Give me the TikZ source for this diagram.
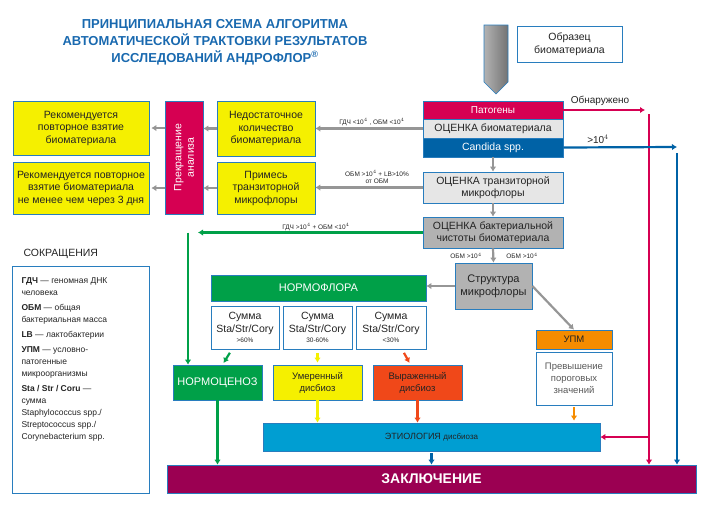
\documentclass[tikz,border=0pt]{standalone}
\usepackage{fontspec}
\setmainfont{Liberation Sans}
\usepackage{tikz}
\usetikzlibrary{positioning}
\usetikzlibrary{arrows.meta}
\definecolor{crim}{RGB}{214, 0, 82}
\definecolor{candblue}{RGB}{0, 98, 166}
\definecolor{edge}{RGB}{40, 125, 190}
\definecolor{ttl}{RGB}{25, 105, 175}
\definecolor{lgray}{RGB}{230, 230, 230}
\definecolor{mgray}{RGB}{178, 178, 178}
\definecolor{yel}{RGB}{245, 240, 0}
\definecolor{grn}{RGB}{0, 160, 72}
\definecolor{orng}{RGB}{245, 140, 0}
\definecolor{redor}{RGB}{240, 72, 25}
\definecolor{cyanb}{RGB}{0, 158, 210}
\definecolor{maroon}{RGB}{155, 0, 82}
\definecolor{agray}{RGB}{150, 150, 150}
\definecolor{txt}{RGB}{35, 35, 35}

\begin{document}
\begin{tikzpicture}[x=1pt, y=-1pt]
    \tikzstyle{box}=[draw=edge, line width=0.7pt, align=center, inner sep=1pt,
    text=txt, font=\fontsize{10.5}{12.5}\selectfont]
    \tikzstyle{arr}=[line width=2.2pt, arrows={-Latex[length=5pt,width=6.5pt]}]
    \tikzstyle{small}=[font=\fontsize{6.5}{7.5}\selectfont, text=txt, align=center]

    \useasboundingbox (0, 0) rectangle (702, 504);

    % Title
    \node [font=\bfseries\fontsize{13}{17}\selectfont, text=ttl, align=center] (title) at (215, 42)
    {ПРИНЦИПИАЛЬНАЯ СХЕМА АЛГОРИТМА\\АВТОМАТИЧЕСКОЙ ТРАКТОВКИ РЕЗУЛЬТАТОВ\\ИССЛЕДОВАНИЙ АНДРОФЛОР\textsuperscript{®}};

    % Sample input
    \shade [draw=edge, line width=0.6pt, left color=black!30, middle color=black!6, right color=black!55]
    (484, 25) -- (508, 25) -- (508, 82) -- (496, 94) -- (484, 82) -- cycle;
    \node [box, minimum width=105, minimum height=36] (sample) at (569.5, 44) {Образец\\биоматериала};

    % Top assessment block
    \node [box, fill=crim, text=white, minimum width=140, minimum height=18,
    font=\fontsize{10}{11}\selectfont] (patog) at (493, 110) {Патогены};
    \node [box, fill=lgray, minimum width=140, minimum height=19] (ocbio) at (493, 128.5) {ОЦЕНКА биоматериала};
    \node [box, fill=candblue, text=white, minimum width=140, minimum height=19] (candida) at (493, 147.5) {Candida spp.};

    % Insufficient material row
    \node [box, fill=yel, minimum width=98, minimum height=55] (nedost) at (266, 128.5) {Недостаточное\\количество\\биоматериала};
    \node [box, fill=crim, text=white, rotate=90, minimum width=113, minimum height=38] (prekr) at (184, 157.5) {Прекращение\\анализа};
    \node [box, fill=yel, minimum width=136, minimum height=54] (rec1) at (81, 128) {Рекомендуется\\повторное взятие\\биоматериала};

    % Transient microflora row
    \node [box, fill=yel, minimum width=98, minimum height=52] (primes) at (266, 188) {Примесь\\транзиторной\\микрофлоры};
    \node [box, fill=yel, minimum width=136, minimum height=52] (rec2) at (81, 188) {Рекомендуется повторное\\взятие биоматериала\\не менее чем через 3 дня};
    \node [box, fill=lgray, minimum width=140, minimum height=31] (octranz) at (493, 187.5) {ОЦЕНКА транзиторной\\микрофлоры};

    % Bacterial purity and structure
    \node [box, fill=mgray, minimum width=140, minimum height=31] (ocbakt) at (493, 232.5) {ОЦЕНКА бактериальной\\чистоты биоматериала};
    \node [box, fill=mgray, minimum width=77, minimum height=46,
    font=\fontsize{11}{13}\selectfont] (struct) at (493.5, 286) {Структура\\микрофлоры};

    % Normoflora
    \node [box, fill=grn, text=white, minimum width=215, minimum height=26,
    font=\fontsize{11}{13}\selectfont] (normofl) at (318.5, 288) {НОРМОФЛОРА};
    \node [box, minimum width=68, minimum height=43] (sum1) at (245, 327.5) {Сумма\\Sta/Str/Cory\\[-2pt]{\fontsize{6.5}{7}\selectfont >60\%}};
    \node [box, minimum width=69, minimum height=43] (sum2) at (317.5, 327.5) {Сумма\\Sta/Str/Cory\\[-2pt]{\fontsize{6.5}{7}\selectfont 30-60\%}};
    \node [box, minimum width=70, minimum height=43] (sum3) at (391, 327.5) {Сумма\\Sta/Str/Cory\\[-2pt]{\fontsize{6.5}{7}\selectfont <30\%}};
    \node [box, fill=grn, text=white, minimum width=89, minimum height=35,
    font=\fontsize{11}{13}\selectfont] (normoc) at (217.5, 382.5) {НОРМОЦЕНОЗ};
    \node [box, fill=yel, minimum width=89, minimum height=35,
    font=\fontsize{9.5}{12}\selectfont] (umer) at (317.5, 382.5) {Умеренный\\дисбиоз};
    \node [box, fill=redor, minimum width=89, minimum height=35,
    font=\fontsize{9.5}{12}\selectfont] (vyraj) at (417.5, 382.5) {Выраженный\\дисбиоз};

    % Opportunistic microorganisms
    \node [box, fill=orng, minimum width=76, minimum height=19,
    font=\fontsize{9.5}{11}\selectfont] (upm) at (574, 339.5) {УПМ};
    \node [box, text=black!65, minimum width=76, minimum height=53,
    font=\fontsize{9.5}{12}\selectfont] (prevysh) at (574, 378.5) {Превышение\\пороговых\\значений};

    % Etiology and conclusion
    \node [box, fill=cyanb, minimum width=337, minimum height=28,
    font=\fontsize{9}{11}\selectfont] (etiol) at (431.5, 437) {ЭТИОЛОГИЯ {\fontsize{8}{10}\selectfont дисбиоза}};
    \node [box, fill=maroon, text=white, minimum width=529, minimum height=28,
    font=\bfseries\fontsize{14}{16}\selectfont] (zakl) at (431.5, 479) {ЗАКЛЮЧЕНИЕ};

    % Legend
    \node [anchor=west, text=txt, font=\fontsize{10.5}{12}\selectfont] (legtitle) at (20, 254) {СОКРАЩЕНИЯ};
    \draw [draw=edge, line width=0.7pt] (12, 266) rectangle (149, 493);
    \node [anchor=north west, text=txt, align=left, font=\fontsize{8.5}{12}\selectfont] (legend) at (18, 274)
    {\textbf{ГДЧ} — геномная ДНК\\человека\\[3pt]
     \textbf{ОБМ} — общая\\бактериальная масса\\[3pt]
     \textbf{LB} — лактобактерии\\[3pt]
     \textbf{УПМ} — условно-\\патогенные\\микроорганизмы\\[3pt]
     \textbf{Sta / Str / Coru} —\\сумма\\Staphylococcus spp./\\Streptococcus spp./\\Corynebacterium spp.};

    % Gray flow arrows
    \draw [arr, agray] (ocbio.west) -- (nedost.east);
    \node [small] at (372, 122) {ГДЧ <10$^4$ , ОБМ <10$^4$};
    \draw [arr, agray] (nedost.west) -- (nedost.west -| prekr.south);
    \draw [arr, agray, shorten >=2pt] (rec1.east -| prekr.north) -- (rec1.east);
    \draw [arr, agray] (octranz.west) -- (octranz.west -| primes.east);
    \node [small] at (377, 177) {ОБМ >10$^4$ + LB>10\%\\от ОБМ};
    \draw [arr, agray] (primes.west) -- (primes.west -| prekr.south);
    \draw [arr, agray, shorten >=2pt] (rec2.east -| prekr.north) -- (rec2.east);
    \draw [arr, agray] (candida.south) -- (octranz.north);
    \draw [arr, agray] (octranz.south) -- (ocbakt.north);
    \draw [arr, agray] (ocbakt.south) -- (struct.north);
    \node [small] at (466, 256) {ОБМ >10$^4$};
    \node [small] at (522, 256) {ОБМ >10$^4$};
    \draw [arr, agray] (struct.west) -- (struct.west -| normofl.east);
    \draw [arr, agray] (struct.east) -- (upm.north);

    % Pathogens branch
    \coordinate (redend) at (645, 110);
    \coordinate (redtop) at (649, 114);
    \draw [arr, crim] (patog.east) -- (redend);
    \node [font=\fontsize{10}{12}\selectfont, text=txt] at (600, 101) {Обнаружено};
    \draw [arr, crim] (redtop) -- (redtop |- zakl.north);
    \draw [arr, crim] (redtop |- etiol.east) -- (etiol.east);

    % Candida branch
    \coordinate (blueend) at (677, 147);
    \coordinate (bluetop) at (677, 153);
    \draw [arr, candblue] (candida.east) -- (blueend);
    \node [font=\fontsize{10}{12}\selectfont, text=txt] at (598, 139) {>10$^4$};
    \draw [arr, candblue] (bluetop) -- (bluetop |- zakl.north);

    % Normocenosis branch
    \coordinate (gcorner) at (188, 232.5);
    \draw [arr, grn] (ocbakt.west) -- ([xshift=10pt]gcorner);
    \node [small] at (316, 227) {ГДЧ >10$^4$ + ОБМ <10$^4$};
    \draw [arr, grn] (gcorner) -- (gcorner |- normoc.north);

    % From sums to results
    \draw [arr, grn, shorten <=4pt, shorten >=2pt] ([xshift=-13pt]sum1.south) -- ([xshift=5pt]normoc.north);
    \draw [arr, yel, shorten <=4pt, shorten >=2pt] (sum2.south) -- (umer.north);
    \draw [arr, redor, shorten <=4pt, shorten >=2pt] ([xshift=11pt]sum3.south) -- ([xshift=-7pt]vyraj.north);

    % Into etiology and conclusion
    \draw [arr, grn] (normoc.south) -- (normoc.south |- zakl.north);
    \draw [arr, yel] (umer.south) -- (umer.south |- etiol.north);
    \draw [arr, redor] (vyraj.south) -- (vyraj.south |- etiol.north);
    \draw [arr, orng, shorten <=2pt, shorten >=2pt] (prevysh.south) -- (prevysh.south |- etiol.north);
    \draw [arr, candblue, shorten <=2pt] (etiol.south) -- (etiol.south |- zakl.north);

\end{tikzpicture}
\end{document}
